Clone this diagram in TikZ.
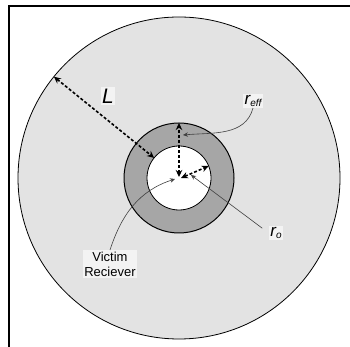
\documentclass[tikz,border=0pt]{standalone}
\usepackage{fontspec}
\setmainfont{Liberation Sans}
\usetikzlibrary{arrows.meta, positioning}
\definecolor{outergray}{RGB}{227,227,227}
\definecolor{ringgray}{RGB}{166,166,166}
\definecolor{taggray}{RGB}{243,243,243}
\tikzset{
    disc/.style={circle, draw=black, line width=0.8pt, inner sep=0pt, outer sep=0pt},
    tag/.style={fill=taggray, inner sep=1.5pt, font=\fontsize{13}{15}\selectfont, align=center},
    dimline/.style={line width=1.6pt, dash pattern=on 3pt off 2pt, {Stealth[length=7pt,width=6.5pt]}-{Stealth[length=7pt,width=6.5pt]}},
    callout/.style={line width=0.6pt, draw=black!75, -{Stealth[length=5pt,width=4.5pt]}}
}
\newcommand{\radsym}[1]{\fontsize{17}{19}\selectfont\itshape r\raisebox{-1.5pt}{\fontsize{10}{10}\selectfont #1}}

\begin{document}
\begin{tikzpicture}[x=1pt, y=1pt]
    \useasboundingbox (0,0) rectangle (350,347);
    \draw[line width=1.8pt] (8.8,0) |- (350,340.8);

    \node (outer) [disc, fill=outergray, minimum size=322pt] at (179,169) {};
    \node (ring) [disc, fill=ringgray, minimum size=110pt, line width=1pt] at (outer.center) {};
    \node (hole) [disc, fill=white, minimum size=64pt] at (outer.center) {};
    \coordinate (c) at (outer.center);

    \draw [dimline] (outer.141) -- (hole.141);
    \draw [dimline] ([yshift=1pt]c) -- (ring.90);
    \draw [dimline] ([xshift=2pt]c) -- (hole.22);

    \node (lname) [tag, font=\fontsize{21}{23}\selectfont\itshape] at (108,251) {L};
    \node (reff) [tag] at (253,246) {\radsym{eff}};
    \node (ro) [tag] at (276,114) {\radsym{o}};
    \node (victim) [tag] at (110,83) {Victim\\Reciever};

    \coordinate (reffend) at (183,212);
    \coordinate (roend) at (191,172);
    \coordinate (victimend) at (175,168);
    \draw [callout] (reff.south) to[out=-105, in=5] (reffend);
    \draw [callout, shorten <=8pt] (ro.west) -- (roend);
    \draw [callout] (victim.north) to[out=72, in=198] (victimend);
\end{tikzpicture}
\end{document}
